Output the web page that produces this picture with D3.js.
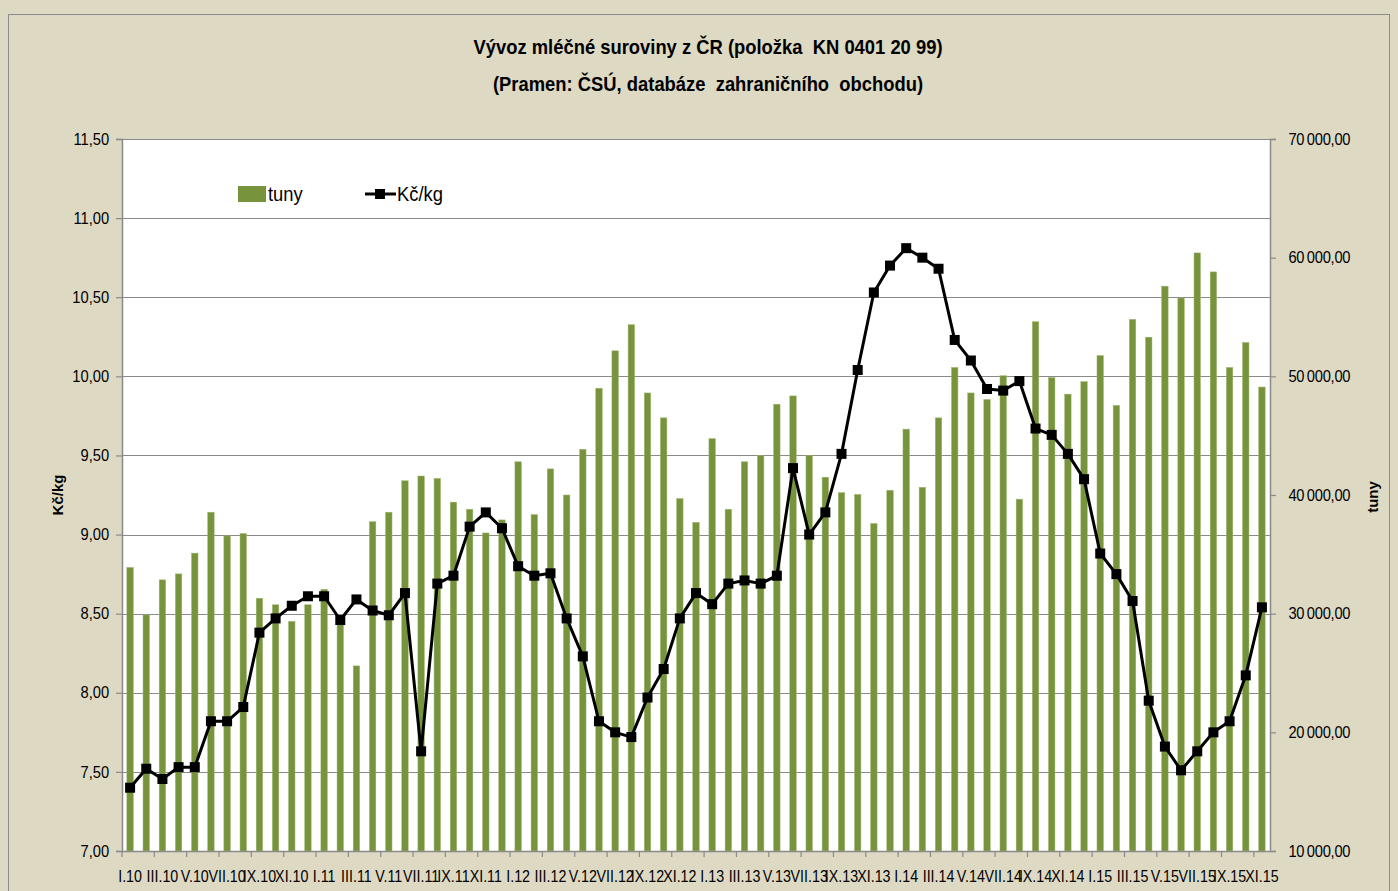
<!DOCTYPE html>
<html><head><meta charset="utf-8">
<script src="https://cdn.jsdelivr.net/npm/d3@7"></script>
<style>
body{margin:0;background:#DDD9C3;}
svg text{font-family:"Liberation Sans Narrow","Arial Narrow","Liberation Sans",sans-serif;}
</style></head>
<body><svg id="c" width="1398" height="891"></svg>
<script>
const romans = ["I","II","III","IV","V","VI","VII","VIII","IX","X","XI","XII"];
const years = ["10","11","12","13","14","15"];
const categories = [];
years.forEach(y => romans.forEach(m => categories.push(m + "." + y)));
categories.splice(71); // I.10 – XI.15

const tuny = [33900,29900,32850,33350,35100,38550,36550,36750,31300,30750,29350,30750,
  32050,29500,25600,37750,38550,41200,41600,41400,39400,38800,36800,37900,
  42800,38350,42200,40000,43850,49000,52150,54350,48600,46500,39700,37700,
  44750,38800,42800,43350,47650,48350,43350,41500,40200,40050,37600,40400,
  45550,40650,46500,50750,48600,48050,50050,39650,54600,49900,48500,49550,
  51750,47550,54800,53300,57600,56600,60400,58800,50750,52850,49100];
const kcKg = [7.40,7.52,7.455,7.53,7.53,7.82,7.82,7.91,8.38,8.47,8.55,8.61,
  8.61,8.46,8.59,8.52,8.49,8.63,7.63,8.69,8.74,9.05,9.14,9.04,
  8.80,8.74,8.755,8.47,8.23,7.82,7.75,7.72,7.97,8.15,8.47,8.63,
  8.56,8.69,8.71,8.69,8.74,9.42,9.00,9.14,9.51,10.04,10.53,10.70,
  10.81,10.75,10.68,10.23,10.10,9.92,9.91,9.97,9.67,9.63,9.51,9.35,
  8.88,8.75,8.58,7.95,7.66,7.51,7.63,7.75,7.82,8.11,8.54];
const leftTicks = [7,7.5,8,8.5,9,9.5,10,10.5,11,11.5];
const rightTicks = [10000,20000,30000,40000,50000,60000,70000];
const titleLines = ["Vývoz mléčné suroviny z ČR (položka  KN 0401 20 99)","(Pramen: ČSÚ, databáze  zahraničního  obchodu)"];

const svg = d3.select("#c");
const L = 122, R = 1270, T = 139, B = 851;
const loc = d3.formatLocale({decimal:",", thousands:"\u2009", grouping:[3], currency:["",""]});
const fmtL = loc.format(".2f"), fmtR = loc.format(",.2f");

svg.append("rect").attr("x",8.5).attr("y",14.5).attr("width",1381).attr("height",890)
  .attr("fill","#DDD9C3").attr("stroke","#8c8c8c");

const x = d3.scaleBand().domain(categories).range([L,R]).paddingInner(0.6).paddingOuter(0.3);
const yL = d3.scaleLinear().domain([7,11.5]).range([B,T]);
const yR = d3.scaleLinear().domain([10000,70000]).range([B,T]);

svg.append("rect").attr("x",L).attr("y",T).attr("width",R-L).attr("height",B-T).attr("fill","#fff");

// gridlines
svg.append("g").selectAll("line").data(leftTicks).join("line")
  .attr("x1",L).attr("x2",R).attr("y1",d=>Math.round(yL(d))+0.5).attr("y2",d=>Math.round(yL(d))+0.5)
  .attr("stroke","#8a8a8a").attr("stroke-width",1.2);

// bars
svg.append("g").selectAll("rect").data(tuny).join("rect")
  .attr("x",(d,i)=>x(categories[i])).attr("width",x.bandwidth())
  .attr("y",d=>yR(d)).attr("height",d=>B-yR(d))
  .attr("fill","#77933C").attr("stroke","#9fb873").attr("stroke-width",0.5);

// left axis
const axL = svg.append("g").attr("transform",`translate(${L},0)`)
  .call(d3.axisLeft(yL).tickValues(leftTicks).tickFormat(fmtL).tickSize(6).tickPadding(8));
// right axis
const axR = svg.append("g").attr("transform",`translate(${R},0)`)
  .call(d3.axisRight(yR).tickValues(rightTicks).tickFormat(fmtR).tickSize(6).tickPadding(14));
// x axis
const labelCats = categories.filter((c,i)=>i%2===0);
const axX = svg.append("g").attr("transform",`translate(0,${B})`)
  .call(d3.axisBottom(x).tickValues(labelCats).tickSize(0).tickPadding(19));
[axL,axR,axX].forEach(a=>{
  a.select(".domain").attr("stroke","#8a8a8a").attr("stroke-width",1.5);
  a.selectAll(".tick line").attr("stroke","#8a8a8a").attr("stroke-width",1.2);
  a.selectAll("text").attr("fill","#000").attr("font-size",16)
    .attr("font-family",'"Liberation Sans Narrow","Arial Narrow","Liberation Sans",sans-serif');
});
axL.selectAll("text").attr("transform","scale(0.92,1)");
axR.selectAll("text").attr("transform","scale(0.92,1)").attr("letter-spacing","-0.3");
axX.selectAll("text").attr("font-size",17).attr("transform","scale(0.84,1)");
axX.select(".domain").remove();
// x tick marks at every second category boundary
const bounds = d3.range(0,categories.length+1,2).map(i=>L + i*x.step());
svg.append("g").selectAll("line").data(bounds).join("line")
  .attr("x1",d=>d).attr("x2",d=>d).attr("y1",B).attr("y2",B+6)
  .attr("stroke","#8a8a8a").attr("stroke-width",1.2);
svg.append("line").attr("x1",L).attr("x2",R).attr("y1",B+0.5).attr("y2",B+0.5).attr("stroke","#8a8a8a").attr("stroke-width",1.5);

// line
const cx = (i)=>x(categories[i])+x.bandwidth()/2;
svg.append("path").datum(kcKg)
  .attr("d",d3.line().x((d,i)=>cx(i)).y(d=>yL(d)))
  .attr("fill","none").attr("stroke","#000").attr("stroke-width",3).attr("stroke-linejoin","round");
svg.append("g").selectAll("rect").data(kcKg).join("rect")
  .attr("x",(d,i)=>cx(i)-5).attr("y",d=>yL(d)-5).attr("width",10).attr("height",10).attr("fill","#000");

// titles
svg.append("g").selectAll("text").data(titleLines).join("text")
  .attr("transform",(d,i)=>`translate(708,${54+i*37}) scale(0.92,1)`).attr("text-anchor","middle")
  .attr("font-size",20).attr("font-weight","bold").attr("fill","#000").style("white-space","pre")
  .text(d=>d);
svg.append("text").attr("transform","translate(63,495) rotate(-90)").attr("text-anchor","middle")
  .attr("font-size",15).attr("font-weight","bold").attr("font-family","'DejaVu Sans',sans-serif").text("Kč/kg");
svg.append("text").attr("transform","translate(1378,497) rotate(-90)").attr("text-anchor","middle")
  .attr("font-size",15).attr("font-weight","bold").attr("font-family","'DejaVu Sans',sans-serif").text("tuny");

// legend
const lg = svg.append("g");
lg.append("rect").attr("x",238).attr("y",186).attr("width",28).attr("height",16).attr("fill","#77933C");
lg.append("text").attr("transform","translate(268,201) scale(0.92,1)").attr("font-size",20).text("tuny");
lg.append("line").attr("x1",365).attr("x2",396).attr("y1",194).attr("y2",194).attr("stroke","#000").attr("stroke-width",3);
lg.append("rect").attr("x",375).attr("y",189).attr("width",10).attr("height",10).attr("fill","#000");
lg.append("text").attr("transform","translate(397,201) scale(0.92,1)").attr("font-size",20).text("Kč/kg");
</script></body></html>
